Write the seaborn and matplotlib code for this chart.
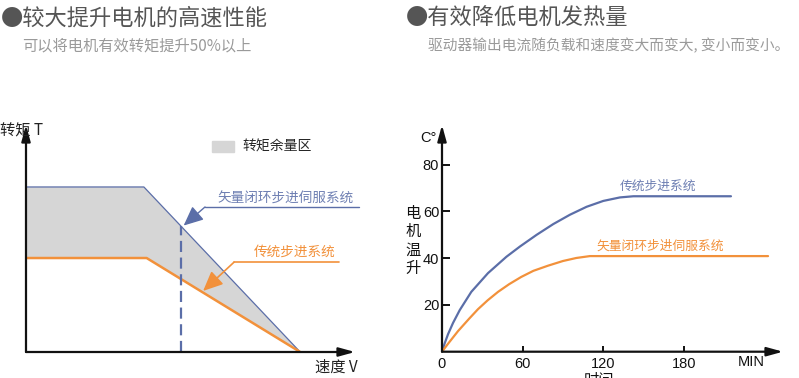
import numpy as np
import seaborn as sns
import matplotlib.pyplot as plt
from matplotlib.patches import Patch

# left chart: torque vs speed (arbitrary units)
speed_servo = [0, 4.3, 10]
torque_servo = [7.27, 7.27, 0]
speed_step = [0, 4.4, 10]
torque_step = [4.14, 4.14, 0]
speed_mark = 5.65

# right chart: motor temperature rise vs time (min)
time_step = [0, 2, 4.5, 8.2, 13.2, 21.8, 34.2, 47.9, 58, 70.4, 82.8, 95.2, 107.6, 120, 132.4, 142.4, 215]
temp_step = [0, 3.6, 7.5, 12.3, 17.8, 25.6, 33.6, 40.6, 45.0, 50.0, 54.6, 58.6, 62.0, 64.5, 66.0, 66.5, 66.5]
time_servo = [0, 4.5, 11.9, 20, 26.8, 34, 41.7, 50, 59, 68, 78.9, 90, 100, 110, 242.6]
temp_servo = [0, 3.4, 8.8, 14.0, 18.2, 22.0, 25.6, 28.9, 32.0, 34.6, 36.8, 38.8, 40.1, 40.9, 40.9]
x_ticks = [0, 60, 120, 180]
y_ticks = [20, 40, 60, 80]

sns.set_theme(style='white')
plt.rcParams['font.family'] = ['Noto Sans CJK SC', 'DejaVu Sans']

BLUE = '#5b6ea8'
BLUE_TXT = '#6f80b3'
ORANGE = '#f2913b'
GREY = '#d6d6d6'

W, H = 799, 378
fig = plt.figure(figsize=(W / 100, H / 100), dpi=100)


def fx(px):
    return px / W


def fy(py):
    return 1 - py / H


# titles
fig.text(fx(1), fy(18), '●较大提升电机的高速性能', fontsize=16, color='#555555', va='center')
fig.text(fx(22), fy(46), '可以将电机有效转矩提升50%以上', fontsize=11, color='#9a9a9a', va='center')
fig.text(fx(406), fy(18), '●有效降低电机发热量', fontsize=16, color='#555555', va='center')
fig.text(fx(428), fy(46), '驱动器输出电流随负载和速度变大而变大, 变小而变小。', fontsize=10.6,
         color='#9a9a9a', va='center')

arrow_kw = dict(arrowstyle='-|>,head_length=0.8,head_width=0.22', color='#111111', lw=1.6,
                shrinkA=0, shrinkB=0)

# ---- left chart ----
ax1 = fig.add_axes([fx(26), fy(352), fx(329), 227 / H])
ax1.set_xlim(0, 12)
ax1.set_ylim(0, 10)
ax1.fill(np.r_[speed_servo, speed_step[::-1]], np.r_[torque_servo, torque_step[::-1]],
         color=GREY, lw=0)
sns.lineplot(x=speed_servo, y=torque_servo, ax=ax1, color=BLUE, lw=0.9, estimator=None)
sns.lineplot(x=speed_step, y=torque_step, ax=ax1, color=ORANGE, lw=1.8, estimator=None)
top_mark = np.interp(speed_mark, speed_servo, torque_servo)
ax1.plot([speed_mark, speed_mark], [0, top_mark], color=BLUE, lw=1.6, ls=(0, (5, 2.5)))
for s in ax1.spines.values():
    s.set_visible(False)
ax1.set_xticks([])
ax1.set_yticks([])
ax1.annotate('', xy=(1, 0), xytext=(0, 0), xycoords='axes fraction', arrowprops=arrow_kw)
ax1.annotate('', xy=(0, 1), xytext=(0, 0), xycoords='axes fraction', arrowprops=arrow_kw)

# callouts
ax1.plot([6.53, 12.14], [6.39, 6.39], color=BLUE, lw=1, clip_on=False)
ax1.annotate('', xy=(5.75, 5.57), xytext=(6.53, 6.39),
             arrowprops=dict(arrowstyle='-|>,head_length=1.0,head_width=0.45', color=BLUE, lw=1,
                             shrinkA=0, shrinkB=0))
ax1.text(9.45, 6.74, '矢量闭环步进伺服系统', color=BLUE_TXT, fontsize=9.8, ha='center', va='center')
ax1.plot([7.59, 11.41], [3.96, 3.96], color=ORANGE, lw=1.2, clip_on=False)
ax1.annotate('', xy=(6.46, 2.69), xytext=(7.59, 3.96),
             arrowprops=dict(arrowstyle='-|>,head_length=1.0,head_width=0.45', color=ORANGE, lw=1.2,
                             shrinkA=0, shrinkB=0))
ax1.text(9.81, 4.4, '传统步进系统', color=ORANGE, fontsize=9.8, ha='center', va='center')

ax1.legend(handles=[Patch(color=GREY, label='转矩余量区')], loc='upper left',
           bbox_to_anchor=(fx(212), fy(140)), bbox_transform=fig.transFigure, frameon=False,
           fontsize=10, handlelength=1.6, handleheight=0.85, handletextpad=0.6,
           borderpad=0, borderaxespad=0)
fig.text(fx(0), fy(131), '转矩 T', fontsize=11, color='#222222', va='center')
fig.text(fx(315), fy(367), '速度 V', fontsize=11, color='#222222', va='center')

# ---- right chart ----
ax2 = fig.add_axes([fx(442), fy(351.7), fx(341), 226.7 / H])
ax2.set_xlim(0, 341 / 1.344)
ax2.set_ylim(0, 226.7 / 2.3375)
sns.lineplot(x=time_step, y=temp_step, ax=ax2, color=BLUE, lw=1.6, estimator=None)
sns.lineplot(x=time_servo, y=temp_servo, ax=ax2, color=ORANGE, lw=1.6, estimator=None)
for s in ax2.spines.values():
    s.set_visible(False)
ax2.set_xticks(x_ticks)
ax2.set_yticks(y_ticks)
ax2.tick_params(axis='y', direction='in', length=6, width=1.4, color='#111111', pad=2,
                labelsize=10.5, left=True)
ax2.tick_params(axis='x', direction='in', length=4, width=1.4, color='#111111', pad=4,
                labelsize=10.5, bottom=True)
for lab in ax2.get_xticklabels() + ax2.get_yticklabels():
    lab.set_family(['Liberation Sans', 'DejaVu Sans'])
    lab.set_color('#111111')
ax2.annotate('', xy=(1, 0), xytext=(0, 0), xycoords='axes fraction', arrowprops=arrow_kw)
ax2.annotate('', xy=(0, 1), xytext=(0, 0), xycoords='axes fraction', arrowprops=arrow_kw)
ax2.text(161, 70.6, '传统步进系统', color=BLUE_TXT, fontsize=9.2, ha='center', va='center')
ax2.text(162, 45.2, '矢量闭环步进伺服系统', color=ORANGE, fontsize=9.2, ha='center', va='center')

fig.text(fx(420), fy(138), 'C°', fontsize=10.5, family=['Liberation Sans', 'DejaVu Sans'],
         color='#111111', va='center')
fig.text(fx(738), fy(362), 'MIN', fontsize=10.5, family=['Liberation Sans', 'DejaVu Sans'],
         color='#111111', va='center')
fig.text(fx(413), fy(241), '电\n机\n温\n升', fontsize=11, color='#111111', ha='center', va='center',
         linespacing=1.12)
fig.text(fx(599), fy(372), '时间', fontsize=11, color='#111111', ha='center', va='top')

fig.savefig('out.png', dpi=100)
